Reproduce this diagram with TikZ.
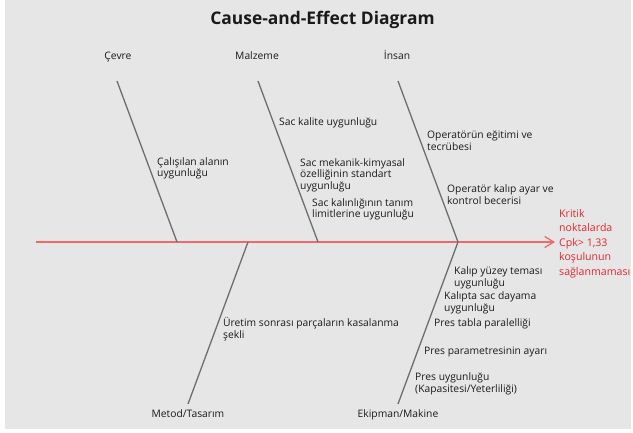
\documentclass[tikz,border=0pt]{standalone}
\usepackage{fontspec}
\setmainfont{Open Sans}
\usetikzlibrary{arrows.meta}
\definecolor{bg}{HTML}{E6E6E6}
\definecolor{bone}{HTML}{6E6E6E}
\definecolor{spinec}{HTML}{EE6A6A}
\definecolor{effc}{HTML}{E3262E}
\definecolor{txt}{HTML}{1A1A1A}
\begin{document}
\begin{tikzpicture}[x=1pt,y=-1pt,
  bonel/.style={draw=bone,line width=1.3pt},
  cause/.style={anchor=base west,inner sep=0pt,align=left,text=txt,font=\fontsize{10.3}{11.5}\selectfont},
  cat/.style={anchor=base,inner sep=0pt,text=txt,font=\fontsize{10.3}{11.5}\selectfont},
  effect/.style={anchor=base west,inner sep=0pt,align=left,text=effc,font=\fontsize{10.6}{14.5}\selectfont}]
\useasboundingbox (0,0) rectangle (633,432);
\fill[white] (0,0) rectangle (633,432);
\fill[bg] (5,0) rectangle (631,429);
% title
\node[anchor=base,inner sep=0pt,text=txt,font=\bfseries\fontsize{17.4}{20}\selectfont] (title) at (322.5,24) {Cause-and-Effect Diagram};
% spine
\coordinate (s0) at (36,242);
\coordinate (head) at (555,242);
\draw[draw=spinec,line width=1.8pt,-{Straight Barb[length=9pt,width=11pt,line width=1.3pt]}] (s0) -- (head);
% bone coordinates
\coordinate (c1t) at (117,81); \coordinate (c1b) at (177,242);
\coordinate (c2t) at (258,81); \coordinate (c2b) at (318,242);
\coordinate (c3t) at (398,81); \coordinate (c3b) at (458,242);
\coordinate (c4t) at (248,242); \coordinate (c4b) at (188,404);
\coordinate (c5t) at (458,242); \coordinate (c5b) at (398,404);
\draw[bonel] (c1t) -- (c1b);
\draw[bonel] (c2t) -- (c2b);
\draw[bonel] (c3t) -- (c3b);
\draw[bonel] (c4t) -- (c4b);
\draw[bonel] (c5t) -- (c5b);
% categories
\node[cat] (cevre) at (118,59) {Çevre};
\node[cat] (malz) at (257,59) {Malzeme};
\node[cat] (insan) at (397,59) {İnsan};
\node[cat] (metod) at (188,417.5) {Metod/Tasarım};
\node[cat] (ekip) at (398,417.5) {Ekipman/Makine};
% causes (anchored at the baseline of the last line)
\node[cause] (a1) at (157,176.5) {Çalışılan alanın\\uygunluğu};
\node[cause] (b1) at (279,125) {Sac kalite uygunluğu};
\node[cause] (b2) at (300,189) {Sac mekanik-kimyasal\\özelliğinin standart\\uygunluğu};
\node[cause] (b3) at (312,217.5) {Sac kalınlığının tanım\\limitlerine uygunluğu};
\node[cause] (i1) at (427,150) {Operatörün eğitimi ve\\tecrübesi};
\node[cause] (i2) at (447,204) {Operatör kalıp ayar ve\\kontrol becerisi};
\node[cause] (m1) at (223,338) {Üretim sonrası parçaların kasalanma\\şekli};
\node[cause] (e1) at (454,286) {Kalıp yüzey teması\\uygunluğu};
\node[cause] (e2) at (444,311) {Kalıpta sac dayama\\uygunluğu};
\node[cause] (e3) at (434,326.5) {Pres tabla paralelliği};
\node[cause] (e4) at (424,354.5) {Pres parametresinin ayarı};
\node[cause] (e5) at (415,392) {Pres uygunluğu\\(Kapasitesi/Yeterliliği)};
% effect
\node[effect] (eff) at (559,275) {Kritik\\noktalarda\\Cpk> 1,33\\koşulunun\\sağlanmaması};
\end{tikzpicture}
\end{document}
